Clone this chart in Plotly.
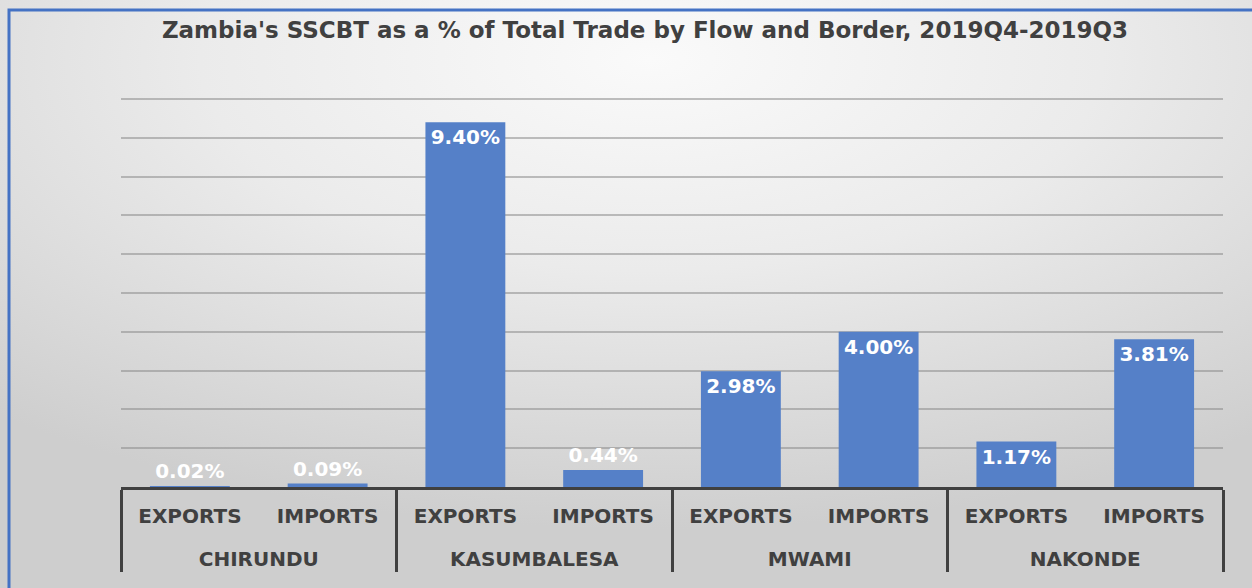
import base64
import plotly.graph_objects as go

# ---- data ----
borders = ["CHIRUNDU", "KASUMBALESA", "MWAMI", "NAKONDE"]
flows = ["EXPORTS", "IMPORTS"]
values = [0.02, 0.09, 9.40, 0.44, 2.98, 4.00, 1.17, 3.81]  # % of total trade
title_text = "Zambia's SSCBT as a % of Total Trade by Flow and Border, 2019Q4-2019Q3"

# blank second line under the inner labels pushes the border names down a level
spacer = "<br>\u00a0"
outer = [b for b in borders for _ in flows]
inner = [f + spacer for _ in borders for f in flows]
labels = [f"{v:.2f}%" for v in values]
positions = ["inside" if v >= 1 else "outside" for v in values]

W, H = 1252, 588
ML, MR, MT, MB = 121, 29, 97, 101
pw, ph = W - ML - MR, H - MT - MB

svg = f"""<svg xmlns='http://www.w3.org/2000/svg' width='{W}' height='{H}' viewBox='0 0 {W} {H}' preserveAspectRatio='none'>
<defs><radialGradient id='g' cx='52%' cy='10%' r='80%' fx='52%' fy='10%'>
<stop offset='0' stop-color='#fafafa'/><stop offset='0.45' stop-color='#ebebeb'/>
<stop offset='1' stop-color='#cecece'/></radialGradient></defs>
<rect width='{W}' height='{H}' fill='url(#g)'/></svg>"""
src = "data:image/svg+xml;base64," + base64.b64encode(svg.encode()).decode()

fig = go.Figure(go.Bar(
    x=[outer, inner], y=values, text=labels, textposition=positions,
    insidetextanchor="end", cliponaxis=False,
    marker=dict(color="#5580c8", line=dict(width=0)),
    textfont=dict(family="DejaVu Sans", size=20, color="white", weight="bold"),
    hoverinfo="skip",
))

fig.update_layout(
    width=W, height=H,
    margin=dict(l=ML, r=MR, t=MT, b=MB, pad=0),
    paper_bgcolor="#dcdcdc", plot_bgcolor="rgba(0,0,0,0)",
    bargap=0.42, showlegend=False,
    title=dict(text=title_text, xref="container", x=645 / W, xanchor="center",
               yref="container", y=1 - 30 / H, yanchor="middle",
               font=dict(family="DejaVu Sans", size=23, color="#404040", weight="bold")),
    images=[dict(source=src, xref="paper", yref="paper",
                 x=-ML / pw, y=1 + MT / ph, sizex=W / pw, sizey=H / ph,
                 xanchor="left", yanchor="top", sizing="stretch", layer="below")],
    shapes=[dict(type="rect", xref="paper", yref="paper",
                 x0=(9 - ML) / pw, x1=(W + 20 - ML) / pw,
                 y0=-(H + 20 - MT - ph) / ph, y1=1 + (MT - 10) / ph,
                 line=dict(color="#4472c4", width=3), layer="above")],
)

fig.update_xaxes(
    type="multicategory", showline=True, linecolor="#404040", linewidth=2.5,
    showdividers=True, dividercolor="#404040", dividerwidth=2.5,
    ticks="", ticklabelstandoff=9,
    tickfont=dict(family="DejaVu Sans", size=20, color="#404040", weight="bold"),
    showgrid=False,
)
fig.update_yaxes(
    range=[0, 10.05], dtick=1, showticklabels=False, showgrid=True,
    gridcolor="rgba(140,140,140,0.55)", gridwidth=2, zeroline=False, showline=False,
)

fig.write_html("out.html", config={"displayModeBar": False},
               post_script="document.body.style.margin='0';")
